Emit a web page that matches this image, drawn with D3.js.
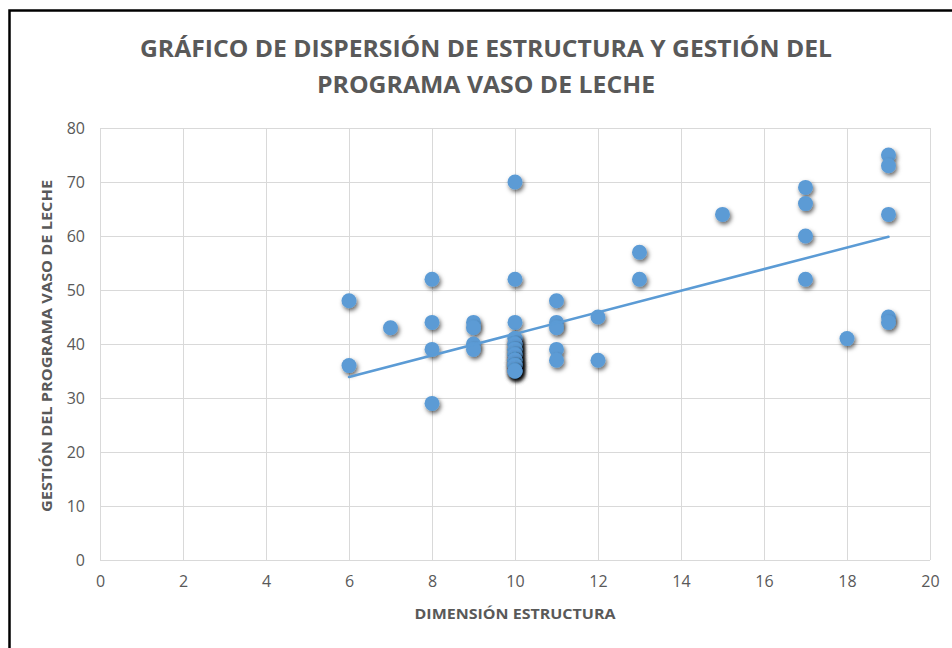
<!DOCTYPE html>
<html>
<head>
<meta charset="utf-8">
<script src="https://cdn.jsdelivr.net/npm/d3@7"></script>
<style>
  html, body { margin: 0; padding: 0; background: #fff; }
  svg { display: block; }
</style>
</head>
<body>
<div id="chart"></div>
<script>
// data: dimension "estructura" (x) vs "gestión" (y)
var estructura = [6, 6, 7, 8, 8, 8, 8, 9, 9, 9, 9, 10, 10, 10,
  10, 10, 10, 10, 10, 10, 10, 10, 10, 10, 10, 10, 10, 10, 10, 10, 10, 10, 10, 10, 10, 10, 10,
  11, 11, 11, 11, 11, 12, 12, 13, 13, 15, 17, 17, 17, 17, 18, 19, 19, 19, 19, 19];
var gestion = [48, 36, 43, 52, 44, 39, 29, 44, 43, 40, 39, 70, 52, 44,
  41, 41, 40, 40, 40, 39, 39, 39, 38, 38, 38, 37, 37, 37, 37, 36, 36, 36, 36, 35, 35, 35, 35,
  48, 44, 43, 39, 37, 45, 37, 57, 52, 64, 69, 66, 60, 52, 41, 75, 73, 64, 45, 44];

var xTicks = [0, 2, 4, 6, 8, 10, 12, 14, 16, 18, 20];
var yTicks = [0, 10, 20, 30, 40, 50, 60, 70, 80];

var titleLines = ["GRÁFICO DE DISPERSIÓN DE ESTRUCTURA Y GESTIÓN DEL", "PROGRAMA VASO DE LECHE"];
var xTitle = "DIMENSIÓN ESTRUCTURA";
var yTitle = "GESTIÓN DEL PROGRAMA VASO DE LECHE";

var width = 952, height = 648;
var margin = {top: 128, right: 22, bottom: 88, left: 100};
var innerWidth = width - margin.left - margin.right;
var innerHeight = height - margin.top - margin.bottom;
var blue = "#5b9bd5", textColor = "#595959", font = "'Open Sans', sans-serif";

var svg = d3.select("#chart").append("svg")
  .attr("width", width)
  .attr("height", height);

// drop shadow for the markers
var filter = svg.append("defs").append("filter")
  .attr("id", "shadow")
  .attr("x", "-50%").attr("y", "-50%")
  .attr("width", "200%").attr("height", "200%");
filter.append("feDropShadow")
  .attr("dx", 1.5).attr("dy", 2.5)
  .attr("stdDeviation", 2)
  .attr("flood-color", "#000")
  .attr("flood-opacity", 0.6);

// chart frame: only its left and top edges are in view
svg.append("path")
  .attr("d", "M9.5," + height + "V10.5H" + width)
  .attr("fill", "none")
  .attr("stroke", "#000")
  .attr("stroke-width", 2.5);

// title
svg.append("g").selectAll("text")
  .data(titleLines)
  .enter().append("text")
    .attr("x", 486)
    .attr("y", function(d, i) { return 57 + i * 36; })
    .attr("text-anchor", "middle")
    .attr("font-family", font)
    .attr("font-weight", "bold")
    .attr("font-size", 24)
    .attr("fill", textColor)
    .attr("textLength", function(d, i) { return i === 0 ? 692 : 338; })
    .attr("lengthAdjust", "spacingAndGlyphs")
    .text(function(d) { return d; });

var canvas = svg.append("g")
  .attr("transform", "translate(" + margin.left + "," + margin.top + ")");

var x = d3.scaleLinear().domain([0, 20]).range([0, innerWidth]);
var y = d3.scaleLinear().domain([0, 80]).range([innerHeight, 0]);

// gridlines
canvas.append("g")
  .attr("stroke", "#d9d9d9")
  .attr("stroke-width", 1)
  .selectAll("line")
  .data(yTicks)
  .enter().append("line")
    .attr("x1", 0).attr("x2", innerWidth)
    .attr("y1", function(d) { return Math.round(y(d)) + 0.5; })
    .attr("y2", function(d) { return Math.round(y(d)) + 0.5; });

canvas.append("g")
  .attr("stroke", "#d9d9d9")
  .attr("stroke-width", 1)
  .selectAll("line")
  .data(xTicks)
  .enter().append("line")
    .attr("y1", 0).attr("y2", innerHeight)
    .attr("x1", function(d) { return Math.round(x(d)) + 0.5; })
    .attr("x2", function(d) { return Math.round(x(d)) + 0.5; });

// axes (labels only, Excel style)
var xAxis = canvas.append("g")
  .attr("transform", "translate(0," + innerHeight + ")")
  .call(d3.axisBottom(x).tickValues(xTicks).tickSize(0).tickPadding(16));
var yAxis = canvas.append("g")
  .call(d3.axisLeft(y).tickValues(yTicks).tickSize(0).tickPadding(15));

[xAxis, yAxis].forEach(function(a) {
  a.attr("font-family", font).attr("font-size", 16);
  a.select(".domain").remove();
  a.selectAll("text").attr("fill", textColor);
});

// axis titles
svg.append("text")
  .attr("x", 515).attr("y", 619)
  .attr("text-anchor", "middle")
  .attr("font-family", font).attr("font-weight", "bold")
  .attr("font-size", 14).attr("fill", textColor)
  .attr("textLength", 201).attr("lengthAdjust", "spacingAndGlyphs")
  .text(xTitle);

svg.append("text")
  .attr("transform", "translate(52,346) rotate(-90)")
  .attr("text-anchor", "middle")
  .attr("font-family", font).attr("font-weight", "bold")
  .attr("font-size", 14).attr("fill", textColor)
  .attr("textLength", 332).attr("lengthAdjust", "spacingAndGlyphs")
  .text(yTitle);

// points
var points = estructura.map(function(d, i) { return {x: d, y: gestion[i]}; });

canvas.append("g")
  .selectAll("circle")
  .data(points)
  .enter().append("circle")
    .attr("cx", function(d) { return x(d.x); })
    .attr("cy", function(d) { return y(d.y); })
    .attr("r", 7.5)
    .attr("fill", blue)
    .attr("filter", "url(#shadow)");

// linear trendline (least squares)
var mx = d3.mean(points, function(d) { return d.x; });
var my = d3.mean(points, function(d) { return d.y; });
var slope = d3.sum(points, function(d) { return (d.x - mx) * (d.y - my); }) /
  d3.sum(points, function(d) { return (d.x - mx) * (d.x - mx); });
var intercept = my - slope * mx;
var ext = d3.extent(points, function(d) { return d.x; });

canvas.append("line")
  .attr("x1", x(ext[0])).attr("y1", y(intercept + slope * ext[0]))
  .attr("x2", x(ext[1])).attr("y2", y(intercept + slope * ext[1]))
  .attr("stroke", blue)
  .attr("stroke-width", 2.5)
  .attr("stroke-linecap", "round");
</script>
</body>
</html>
